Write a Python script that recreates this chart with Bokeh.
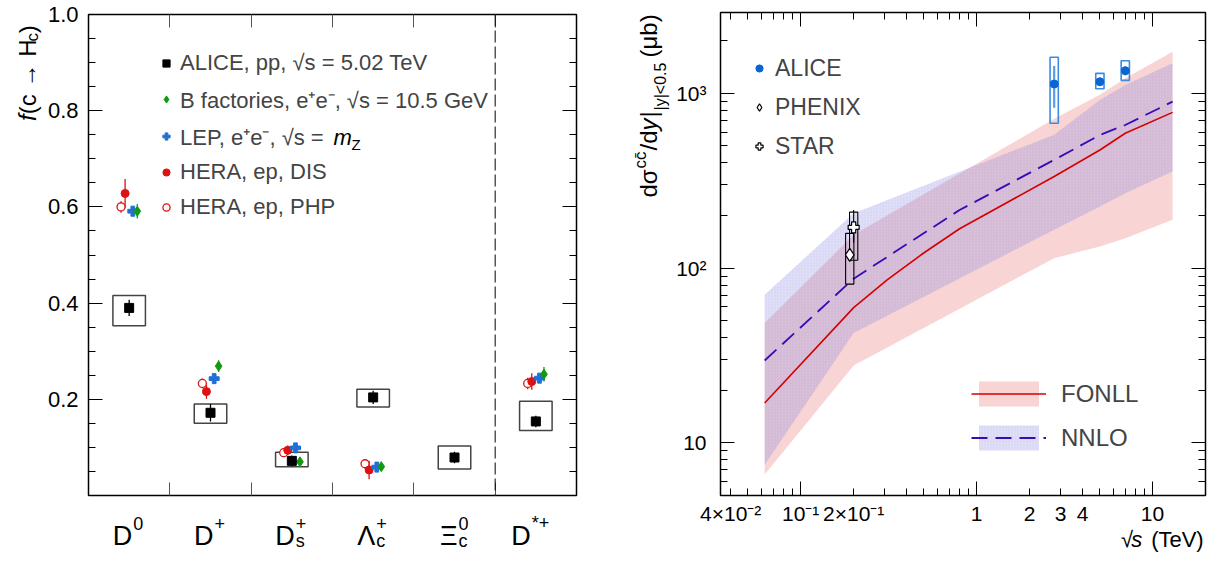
import math
from bokeh.plotting import figure
from bokeh.models import (ColumnDataSource, Range1d, LinearAxis, LogAxis, FixedTicker,
                          CustomJSTickFormatter, Label, Legend, LegendItem, Span)
from bokeh.layouts import row, column
from bokeh.core.properties import value
from bokeh.embed import file_html
from bokeh.resources import INLINE

FONT = "Liberation Sans"

# ================= Left panel data: f(c -> Hc) =================
hadron_main = ["D", "D", "D", "Λ", "Ξ", "D"]
hadron_sup = ["0", "+", "+", "+", "0", "*+"]
hadron_sub = ["", "", "s", "c", "c", ""]

alice_f = [0.390, 0.172, 0.072, 0.204, 0.079, 0.154]
alice_f_stat = [0.017, 0.018, 0.011, 0.014, 0.012, 0.012]
alice_f_syst_lo = [0.353, 0.150, 0.060, 0.184, 0.055, 0.135]
alice_f_syst_hi = [0.416, 0.190, 0.090, 0.221, 0.103, 0.196]

other_cats = [0, 1, 2, 3, 5]          # D0, D+, Ds+, Lc+, D*+
bfac_f = [0.591, 0.269, 0.070, 0.060, 0.252]
bfac_err = [0.015, 0.012, 0.007, 0.007, 0.015]
lep_f = [0.591, 0.243, 0.099, 0.059, 0.244]
lep_err = [0.010, 0.009, 0.008, 0.006, 0.008]
dis_f = [0.628, 0.216, 0.094, 0.053, 0.237]
dis_err = [0.030, 0.015, 0.010, 0.019, 0.017]
php_f = [0.600, 0.233, 0.089, 0.066, 0.233]
php_err = [0.012, 0.010, 0.008, 0.010, 0.012]

yticks_left = [0.0, 0.2, 0.4, 0.6, 0.8, 1.0]
ylabels_left = ["", "0.2", "0.4", "0.6", "0.8", "1.0"]

# ================= Right panel data: dsigma(cc)/dy =================
band_rs = [0.0624, 0.2, 2.76, 5.02, 7.0, 13.0]
fonll_lo = [6.6, 27.7, 114, 133, 148, 189]
fonll_hi = [48.5, 155, 715, 982, 1219, 1729]
nnlo_lo = [7.5, 42.5, 166, 225, 268, 357]
nnlo_hi = [70.4, 206, 580, 916, 1116, 1484]

fonll_rs = [0.0624, 0.2, 0.31, 0.5, 0.8, 2.76, 5.02, 7.0, 13.0]
fonll_c = [16.9, 59.4, 85.7, 122, 168, 334, 474, 591, 778]
nnlo_rs = [0.0624, 0.2, 0.8, 2.76, 5.02, 7.0, 13.0]
nnlo_c = [29.6, 87, 215, 416, 578, 659, 896]

alice_rs = [2.76, 5.02, 7.0]
alice_sig = [1130, 1165, 1346]
alice_stat_lo = [828, 1130, 1270]
alice_stat_hi = [1432, 1200, 1430]
alice_syst_lo = [674, 1062, 1186]
alice_syst_hi = [1607, 1301, 1535]

phenix_rs = [0.19]
phenix_sig = [119]
phenix_stat_lo = [110]
phenix_stat_hi = [129]
phenix_syst_lo = [81]
phenix_syst_hi = [158]

star_rs = [0.2]
star_sig = [171]
star_stat_lo = [140]
star_stat_hi = [215]
star_syst_lo = [111]
star_syst_hi = [209]

xtick_vals = [0.04, 0.1, 0.2, 1, 2, 3, 4, 10]
xtick_labels = ["4×10⁻²", "10⁻¹", "2×10⁻¹", "1", "2", "3", "4", "10"]
ytick_vals = [10, 100, 1000]
ytick_labels = ["10", "10²", "10³"]

# ================= helpers =================
LAB_JS = """
for (let i = 0; i < vals.length; i++) {
  if (Math.abs(vals[i] - tick) <= 1e-6 * Math.max(1e-9, Math.abs(vals[i]))) return labs[i];
}
return '';
"""
K_BASE = 0.36   # Bokeh places 'alphabetic' text about this many em lower than the canvas baseline


def make_axis(cls, ticks, minor, tick_in, minor_in, labels=None, font_size="22px",
              standoff=10, tick_color="black"):
    ax = cls(ticker=FixedTicker(ticks=ticks, minor_ticks=minor))
    ax.axis_line_color = None
    ax.major_tick_in = tick_in
    ax.major_tick_out = 0
    ax.minor_tick_in = minor_in
    ax.minor_tick_out = 0
    ax.major_tick_line_color = tick_color if tick_in > 0 else None
    ax.minor_tick_line_color = tick_color if minor_in > 0 else None
    ax.major_tick_line_width = 1
    ax.minor_tick_line_width = 1
    if labels is None:
        ax.formatter = CustomJSTickFormatter(code="return '';")
        ax.major_label_text_font_size = "0px"
        ax.major_label_standoff = 0
    else:
        vals, labs = labels
        ax.formatter = CustomJSTickFormatter(args=dict(vals=list(vals), labs=list(labs)), code=LAB_JS)
        ax.major_label_text_font = FONT
        ax.major_label_text_font_size = font_size
        ax.major_label_text_color = "black"
        ax.major_label_standoff = standoff
    return ax


def text_fig(width, height, xr, yr):
    f = figure(width=width, height=height, x_range=xr, y_range=yr, output_backend="svg",
               toolbar_location=None, x_axis_location=None, y_axis_location=None,
               min_border_left=0, min_border_right=0, min_border_top=0, min_border_bottom=0)
    f.grid.visible = False
    f.outline_line_color = None
    f.background_fill_color = "white"
    f.border_fill_color = "white"
    return f


def tlabel(fig, x, y, txt, size, align="left", style="normal", angle=0.0, x_offset=0):
    fig.add_layout(Label(x=x, y=y, text=txt, text_font=FONT, text_font_size=f"{size}px",
                         text_font_style=style, text_align=align, text_baseline="alphabetic",
                         angle=angle, x_offset=x_offset, text_color="black"))


# ================= Left figure =================
# layout coordinates: p1 canvas x 42..630, y 0..497 ; frame x 88..576, y 14..495
p1 = figure(width=588, height=497, x_range=Range1d(0, 6), y_range=Range1d(0, 1),
            output_backend="svg", toolbar_location=None,
            x_axis_location=None, y_axis_location=None,
            min_border_left=46, min_border_right=54, min_border_top=14, min_border_bottom=2)
p1.grid.visible = False
p1.outline_line_color = "black"
p1.outline_line_width = 1.5
p1.background_fill_color = "white"
p1.border_fill_color = "white"


def ly(py):
    return (495.0 - py) / 481.0


def lx(px):
    return (px - 88.0) / (488.0 / 6.0)


minor_left = [round(0.05 * k, 2) for k in range(1, 20) if k % 4 != 0]
p1.add_layout(make_axis(LinearAxis, yticks_left, minor_left, 14, 7,
                        labels=(yticks_left, ylabels_left), font_size="22px", standoff=10), "left")
p1.add_layout(make_axis(LinearAxis, yticks_left, minor_left, 14, 7), "right")
bounds = [1, 2, 3, 4, 5]
p1.add_layout(make_axis(LinearAxis, bounds, [], 13, 0, tick_color="#555555"), "below")
p1.add_layout(make_axis(LinearAxis, bounds, [], 13, 0, tick_color="#555555"), "above")

p1.add_layout(Span(location=5, dimension="height", line_color="black", line_width=1,
                   line_dash="12 4"))

cx = [i + 0.5 for i in range(6)]
alice_src = ColumnDataSource(dict(
    x=cx, y=alice_f,
    lo=[v - e for v, e in zip(alice_f, alice_f_stat)],
    hi=[v + e for v, e in zip(alice_f, alice_f_stat)],
    bl=[x - 0.2 for x in cx], br=[x + 0.2 for x in cx],
    bb=alice_f_syst_lo, bt=alice_f_syst_hi))
p1.quad(left="bl", right="br", bottom="bb", top="bt", fill_color=None,
        line_color="#444444", line_width=1.5, source=alice_src)


def series_src(vals, errs, off):
    xs = [c + 0.5 + off for c in other_cats]
    return ColumnDataSource(dict(x=xs, y=vals,
                                 lo=[v - e for v, e in zip(vals, errs)],
                                 hi=[v + e for v, e in zip(vals, errs)]))


php_src = series_src(php_f, php_err, -0.10)
dis_src = series_src(dis_f, dis_err, -0.05)
lep_src = series_src(lep_f, lep_err, 0.045)
bfac_src = series_src(bfac_f, bfac_err, 0.10)

RED = "#dd1111"
GREEN = "#129912"
BLUE = "#1f6fd6"

for src, col in [(php_src, RED), (dis_src, RED), (lep_src, BLUE), (bfac_src, GREEN)]:
    p1.segment(x0="x", y0="lo", x1="x", y1="hi", line_color=col, line_width=1.3, source=src)
p1.segment(x0="x", y0="lo", x1="x", y1="hi", line_color="black", line_width=1.3, source=alice_src)

r_php = p1.scatter("x", "y", marker="circle", size=8, fill_color="white", line_color=RED,
                   line_width=1.3, source=php_src)
r_dis = p1.scatter("x", "y", marker="circle", size=8, fill_color=RED, line_color=RED, source=dis_src)
r_lep = p1.scatter("x", "y", marker="plus", size=10, fill_color=BLUE, line_color=BLUE, source=lep_src)
r_bfac = p1.scatter("x", "y", marker="diamond", size=10, fill_color=GREEN, line_color=GREEN,
                    source=bfac_src)
r_alice = p1.scatter("x", "y", marker="square", size=9, fill_color="black", line_color="black",
                     source=alice_src)

leg1 = Legend(items=[
    LegendItem(label=value("ALICE, pp, √s = 5.02 TeV"), renderers=[r_alice]),
    LegendItem(label=value("B factories, e⁺e⁻, √s = 10.5 GeV"), renderers=[r_bfac]),
    LegendItem(label=value("LEP, e⁺e⁻, √s ="), renderers=[r_lep]),
    LegendItem(label=value("HERA, ep, DIS"), renderers=[r_dis]),
    LegendItem(label=value("HERA, ep, PHP"), renderers=[r_php]),
], location=(69, 274), orientation="vertical", glyph_width=18, glyph_height=28,
    label_height=28, spacing=7, padding=0, margin=0, label_standoff=5,
    label_text_font=FONT, label_text_font_size="22px", border_line_color=None,
    background_fill_alpha=0)
p1.add_layout(leg1)
tlabel(p1, lx(333), ly(145 - K_BASE * 22), "m", 22, style="italic")
tlabel(p1, lx(351), ly(149 - K_BASE * 15), "Z", 15)

# y title of left panel (canvas x 0..42, y 0..497); pieces chained upward
yt1 = text_fig(42, 497, Range1d(0, 42), Range1d(497, 0))
for txt, style, ystart, xb, fs in [("f", "italic", 110, 36, 24),
                                    ("(c → H", "normal", 103, 36, 24),
                                    ("c", "normal", 28, 38.5, 17),
                                    (")", "normal", 19.5, 36, 24)]:
    tlabel(yt1, xb - K_BASE * fs, ystart, txt, fs, style=style, angle=math.pi / 2)

# category labels (canvas x 0..630, y 497..552)
cat1 = figure(width=630, height=55, x_range=Range1d(0, 6), y_range=Range1d(552, 497),
              output_backend="svg", toolbar_location=None,
              x_axis_location=None, y_axis_location=None,
              min_border_left=88, min_border_right=54, min_border_top=0, min_border_bottom=0)
cat1.grid.visible = False
cat1.outline_line_color = None
cat1.background_fill_color = "white"
cat1.border_fill_color = "white"
label_dx = [3, 3, 3, 2, 3, -5]
for i in range(6):
    xc = i + 0.5
    tlabel(cat1, xc, 545 - K_BASE * 27, hadron_main[i], 27, align="right", x_offset=label_dx[i])
    if hadron_sup[i]:
        tlabel(cat1, xc, 529 - K_BASE * 18, hadron_sup[i], 18, x_offset=label_dx[i] + 1)
    if hadron_sub[i]:
        tlabel(cat1, xc, 547 - K_BASE * 18, hadron_sub[i], 18, x_offset=label_dx[i] + 1)

left_block = column(row(yt1, p1), cat1)

# ================= Right figure =================
# p2 canvas x 671..1207, y 0..527 ; frame x 720..1205, y 12..496
XMIN, XMAX, YMIN, YMAX = 0.035, 20.0, 5.0, 2900.0
p2 = figure(width=536, height=527, x_axis_type="log", y_axis_type="log",
            x_range=Range1d(XMIN, XMAX), y_range=Range1d(YMIN, YMAX),
            output_backend="svg", toolbar_location=None,
            x_axis_location=None, y_axis_location=None,
            min_border_left=49, min_border_right=2, min_border_top=12, min_border_bottom=31)
p2.grid.visible = False
p2.outline_line_color = "black"
p2.outline_line_width = 1.5
p2.background_fill_color = "white"
p2.border_fill_color = "white"

minor_x = [round(m * 10 ** e, 6) for e in range(-2, 2) for m in range(2, 10)]
minor_x = [v for v in minor_x if XMIN < v < XMAX]
minor_y = [m * 10 ** e for e in range(0, 4) for m in range(2, 10)]
minor_y = [v for v in minor_y if YMIN < v < YMAX]

p2.add_layout(make_axis(LogAxis, ytick_vals, minor_y, 14, 7,
                        labels=(ytick_vals, ytick_labels), font_size="21px", standoff=14), "left")
p2.add_layout(make_axis(LogAxis, ytick_vals, minor_y, 14, 7), "right")
p2.add_layout(make_axis(LogAxis, [0.1, 1, 10], minor_x, 14, 7), "below")
p2.add_layout(make_axis(LogAxis, xtick_vals, [], 0, 0,
                        labels=(xtick_vals, xtick_labels), font_size="21px", standoff=6), "below")
p2.add_layout(make_axis(LogAxis, [0.1, 1, 10], minor_x, 14, 7), "above")

band_src = ColumnDataSource(dict(x=band_rs, flo=fonll_lo, fhi=fonll_hi, nlo=nnlo_lo, nhi=nnlo_hi))
r_fband = p2.varea(x="x", y1="flo", y2="fhi", fill_color="#f8d4d4", fill_alpha=1.0, source=band_src)
r_nband = p2.varea(x="x", y1="nlo", y2="nhi", fill_color="#8c8ce6", fill_alpha=0.24,
                   hatch_pattern="right_diagonal_line", hatch_color="#7070d8", hatch_alpha=0.2,
                   hatch_scale=3, hatch_weight=0.6, source=band_src)
r_fline = p2.line(fonll_rs, fonll_c, line_color="#d40000", line_width=1.6)
r_nline = p2.line(nnlo_rs, nnlo_c, line_color="#3a0ab4", line_width=1.8, line_dash="16 8")

HW = 10 ** 0.0235


def pt_src(xs, ys, slo, shi, blo, bhi):
    return ColumnDataSource(dict(x=xs, y=ys, lo=slo, hi=shi,
                                 bl=[x / HW for x in xs], br=[x * HW for x in xs],
                                 bb=blo, bt=bhi))


ph_src = pt_src(phenix_rs, phenix_sig, phenix_stat_lo, phenix_stat_hi, phenix_syst_lo, phenix_syst_hi)
st_src = pt_src(star_rs, star_sig, star_stat_lo, star_stat_hi, star_syst_lo, star_syst_hi)
al_src = pt_src(alice_rs, alice_sig, alice_stat_lo, alice_stat_hi, alice_syst_lo, alice_syst_hi)

for src in (ph_src, st_src):
    p2.quad(left="bl", right="br", bottom="bb", top="bt", fill_color=None, line_color="black",
            line_width=1.1, source=src)
    p2.segment(x0="x", y0="lo", x1="x", y1="hi", line_color="black", line_width=1.1, source=src)
p2.quad(left="bl", right="br", bottom="bb", top="bt", fill_color=None, line_color="#3a8ce2",
        line_width=1.6, source=al_src)
p2.segment(x0="x", y0="lo", x1="x", y1="hi", line_color="#5a9de6", line_width=2.2, source=al_src)

r_ph = p2.scatter("x", "y", marker="diamond", size=13, fill_color="white", line_color="black",
                  line_width=1.2, source=ph_src)
r_st = p2.scatter("x", "y", marker="plus", size=11, fill_color="white", line_color="black",
                  line_width=1.2, source=st_src)
r_al = p2.scatter("x", "y", marker="circle", size=8, fill_color="#0a64d2", line_color="#0a64d2",
                  source=al_src)

leg2 = Legend(items=[
    LegendItem(label=value("ALICE"), renderers=[r_al]),
    LegendItem(label=value("PHENIX"), renderers=[r_ph]),
    LegendItem(label=value("STAR"), renderers=[r_st]),
], location=(30, 334), orientation="vertical", glyph_width=18, glyph_height=30,
    label_height=30, spacing=9, padding=0, margin=0, label_standoff=7,
    label_text_font=FONT, label_text_font_size="23px", border_line_color=None,
    background_fill_alpha=0)
p2.add_layout(leg2)

leg3 = Legend(items=[
    LegendItem(label=value("FONLL"), renderers=[r_fband, r_fline]),
    LegendItem(label=value("NNLO"), renderers=[r_nband, r_nline]),
], location=(251, 42), orientation="vertical", glyph_width=75, glyph_height=31,
    label_height=31, spacing=13, padding=0, margin=0, label_standoff=15,
    label_text_font=FONT, label_text_font_size="24px", border_line_color=None,
    background_fill_alpha=0)
p2.add_layout(leg3)

# y title of right panel (canvas x 630..671, y 0..552); pieces chained upward
yt2 = text_fig(41, 552, Range1d(630, 671), Range1d(552, 0))
for txt, style, ystart, xb, fs in [("dσ", "normal", 197, 657, 24),
                                    ("cc̄", "normal", 168, 646, 17),
                                    ("/d", "normal", 150, 657, 24),
                                    ("y", "italic", 130, 657, 24),
                                    ("|", "normal", 117, 657, 24),
                                    ("|y|<0.5", "normal", 110, 666, 16),
                                    ("(μb)", "normal", 57, 657, 24)]:
    tlabel(yt2, xb - K_BASE * fs, ystart, txt, fs, style=style, angle=math.pi / 2)

# x title of right panel (canvas x 671..1207, y 527..552)
xt2 = text_fig(536, 25, Range1d(671, 1207), Range1d(552, 527))
tlabel(xt2, 1127, 547 - K_BASE * 22, "√", 22, align="right")
tlabel(xt2, 1125, 547 - K_BASE * 22, "s", 22, style="italic")
tlabel(xt2, 1205, 547 - K_BASE * 22, "(TeV)", 22, align="right")

right_block = row(yt2, column(p2, xt2))

layout = row(left_block, right_block)
open("out.html", "w").write(file_html(layout, INLINE))
